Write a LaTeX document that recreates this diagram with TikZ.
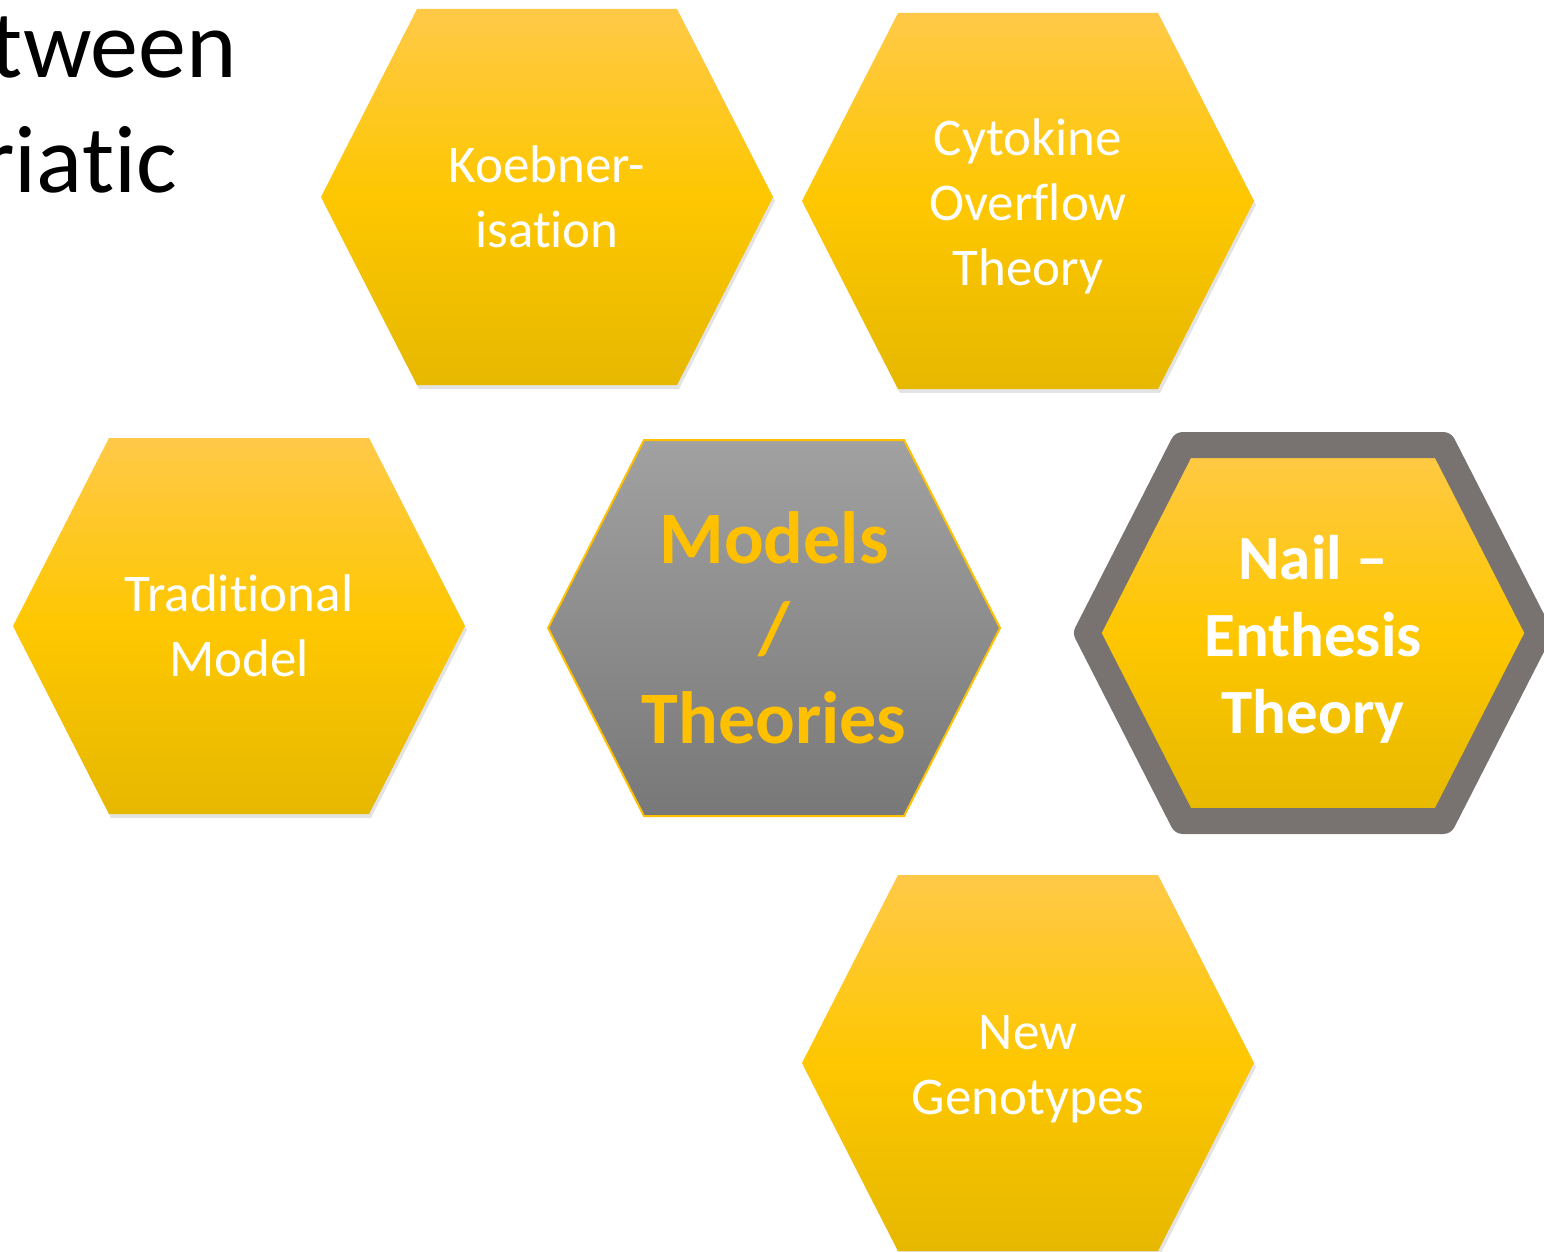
\documentclass[tikz,border=0pt]{standalone}
\usepackage{fontspec}
\setmainfont[Ligatures={TeX,NoCommon}]{Carlito}
\usetikzlibrary{shadows}

\definecolor{goldtop}{RGB}{255,201,72}
\definecolor{goldmid}{RGB}{254,199,0}
\definecolor{goldbot}{RGB}{230,184,0}
\definecolor{greytop}{RGB}{161,161,161}
\definecolor{greybot}{RGB}{120,120,120}
\definecolor{rimgrey}{RGB}{120,115,113}
\definecolor{amber}{RGB}{255,192,0}

% hexagon with flat top and bottom round a named coordinate
\newcommand{\hexat}[2]{\path[#2] (#1) +(-226,0) -- +(-130,-188) -- +(130,-188) -- +(226,0) -- +(130,188) -- +(-130,188) -- cycle;}

\tikzset{
	goldcell/.style={top color=goldtop, bottom color=goldbot, middle color=goldmid,
		drop shadow={opacity=.22, shadow xshift=2pt, shadow yshift=-4pt}},
	rimcell/.style={goldcell, draw=rimgrey, line width=26pt, line join=round},
	corecell/.style={top color=greytop, bottom color=greybot, draw=amber, line width=2pt},
	celltext/.style={text=white, align=center, font=\fontsize{53}{65}\selectfont},
	nailtext/.style={text=white, align=center, font=\bfseries\fontsize{63}{77}\selectfont},
	coretext/.style={text=amber, align=center, font=\bfseries\fontsize{74}{90}\selectfont},
	titletext/.style={anchor=base east, inner sep=0pt, font=\fontsize{96}{115}\selectfont}
}

\begin{document}
\begin{tikzpicture}[x=1pt, y=-1pt]
	\useasboundingbox (0,0) rectangle (1544,1252);
	\clip (0,0) rectangle (1544,1252);

	\node[titletext] (title1) at (237,78) {tween};
	\node[titletext] (title2) at (177,193) {riatic};

	\coordinate (c-koebner) at (547,197);
	\coordinate (c-cytokine) at (1028,201);
	\coordinate (c-traditional) at (239,626);
	\coordinate (c-core) at (774,628);
	\coordinate (c-nail) at (1313,633);
	\coordinate (c-genotypes) at (1028,1063);

	\hexat{c-koebner}{goldcell}
	\hexat{c-cytokine}{goldcell}
	\hexat{c-traditional}{goldcell}
	\hexat{c-core}{corecell}
	\hexat{c-nail}{rimcell}
	\hexat{c-genotypes}{goldcell}

	\node[celltext] (koebner) at (c-koebner) {Koebner-\\isation};
	\node[celltext] (cytokine) at ([yshift=-5pt]c-cytokine) {Cytokine\\Overflow\\Theory};
	\node[celltext] (traditional) at (c-traditional) {Traditional\\Model};
	\node[coretext] (core) at (c-core) {Models\\/\\Theories};
	\node[nailtext] (nail) at ([yshift=-6pt]c-nail) {Nail –\\Enthesis\\Theory};
	\node[celltext] (genotypes) at ([yshift=-6pt]c-genotypes) {New\\Genotypes};

\end{tikzpicture}
\end{document}
